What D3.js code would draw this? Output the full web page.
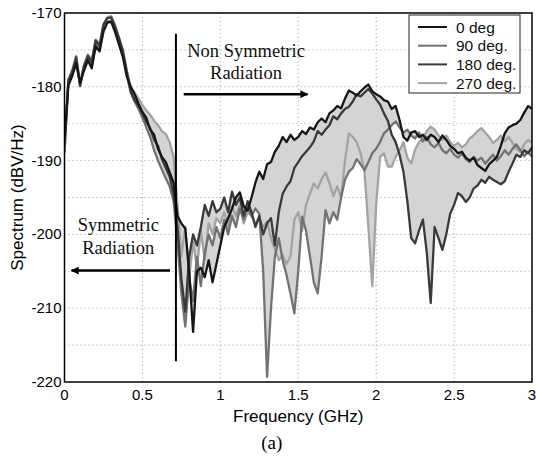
<!DOCTYPE html>
<html>
<head>
<meta charset="utf-8">
<script src="https://d3js.org/d3.v7.min.js"></script>
<style>
  body { margin: 0; background: #fff; }
  svg { display: block; }
</style>
</head>
<body>
<svg id="chart" width="536" height="457"></svg>
<script>
// frequency grid (GHz), step 0.025
var freq = d3.range(0, 121).map(function(i) { return +(i * 0.025).toFixed(3); });

var deg0 = [-187,-179.8,-178.5,-176.8,-179.5,-177.8,-176.4,-177.5,-174.5,-175.2,-172.5,-171.3,-171.2,-172.6,-174.3,-176,-178.6,-180,-181,
  -182.3,-183.4,-184.2,-185.8,-186.5,-188.4,-189.5,-190.2,-191.6,-193,-197.5,-198.5,-199.2,-205,-213.2,-205,-204.5,-205.8,-203.5,-206.5,-204,
  -201.5,-199,-197.8,-196.5,-195,-194.3,-196.2,-196.8,-195,-193,-191.5,-192.5,-190.5,-190.2,-188.8,-188,-186.8,-187.5,-186.5,-187.2,
  -186.8,-186,-186.4,-185.5,-185.8,-184.8,-184.3,-184.8,-183.6,-183.2,-182.6,-182.9,-181.6,-180.5,-180.8,-181.2,-180.6,-180.1,-179.7,-180.6,
  -181,-181.3,-181.8,-182,-183,-182.6,-184.5,-186.8,-187.3,-186.2,-186,-186.8,-186.5,-187.2,-186.5,-186.8,-187.5,-186.6,-187.2,-188,
  -188.4,-189,-188.8,-189.6,-190,-189.6,-190.6,-191,-191.4,-190.5,-190,-189.5,-188,-186.3,-185.5,-185.2,-185,-184.5,-183.5,-182.6,-183];

var deg90 = [-189,-179,-178,-176.2,-179.8,-177.4,-176.2,-177.2,-174.3,-175,-172.3,-171.2,-171,-172.4,-174,-175.8,-178.4,-180.8,-182,
  -183,-184.2,-185.5,-186.8,-188.6,-190,-191.2,-192.4,-193.5,-195.5,-201,-208,-212.5,-206,-209,-203,-207,-202.5,-200,-201.5,-199,
  -200.5,-198,-200,-197.5,-199,-196.5,-198,-196,-197.5,-196.5,-197.2,-205,-219.3,-210,-203,-200.5,-203.5,-205.5,-208,-210.7,
  -205,-197.6,-199.5,-203,-206.5,-208,-203,-196.7,-198.5,-197,-198,-195,-192.6,-191.5,-191,-189.8,-190.5,-191.3,-190.2,-189,
  -188.4,-187.5,-186.3,-185.8,-185.2,-184.7,-185.5,-186.2,-185.8,-186.6,-187,-186.2,-187.4,-186.8,-187.8,-188.2,-187.6,-188.6,-189,-188.4,
  -189.2,-189.6,-189,-189.8,-190.2,-189.5,-190,-189.6,-190.4,-189.8,-189.2,-190,-189.4,-188.6,-189.2,-188.4,-187.8,-188.6,-189.4,-188.8,-189.5];

var deg180 = [-188,-179.2,-178,-176,-179.9,-177.2,-175.8,-176.6,-173.7,-174.5,-171.6,-170.7,-170.6,-171.9,-173.4,-175.2,-178,-180.6,-181.8,
  -182.6,-183.6,-184.8,-185.6,-187.2,-188,-189.8,-191,-192.2,-194.5,-199,-206,-210.5,-203,-200,-201.5,-199,-196,-197.5,-195.5,-197,
  -196.5,-195,-197,-194.2,-196,-195,-197.5,-195.5,-197,-199,-197.5,-200,-198.5,-197.8,-201.5,-197,-194.5,-193.5,-192.8,-191,
  -190.2,-189.4,-188.8,-188.2,-187.4,-186,-186.5,-185.8,-185.2,-184,-184.4,-183.6,-183,-182.7,-182,-181,-181.3,-180.8,-180.3,-180.9,
  -181.7,-182.4,-183.6,-184.6,-186.5,-187.5,-189.2,-191.5,-195.5,-200.5,-201.2,-199.5,-198,-202.5,-209.3,-199,-200.5,-202.1,-200,-197.2,
  -196,-194.4,-194.8,-195.6,-195,-193.8,-193.4,-192.6,-193,-192.2,-192.6,-192.9,-193.2,-192.8,-191.5,-190.4,-189.2,-189.5,-188.6,-189,-188.2];

var deg270 = [-188.8,-179,-177.6,-175.8,-179.4,-177,-175.6,-176.4,-173.6,-174.2,-171.5,-170.6,-170.4,-171.6,-173.4,-175,-177.8,-180,-180.8,
  -181.6,-182.5,-183.2,-183.8,-184.6,-185.2,-186,-186.4,-187.5,-189.5,-196,-203,-199,-206,-201,-204.5,-199.5,-203.5,-198.5,-200,-197.8,
  -198.5,-197,-199,-196.2,-197.5,-196,-198.5,-197,-197.5,-198.5,-197.8,-199,-198.2,-200.5,-202,-203.5,-202.8,-204,-203,-198,
  -197,-199.5,-196,-194.5,-193.1,-193.8,-192.5,-191.6,-193,-194.8,-193.5,-195,-190,-186.3,-186.8,-187.5,-189,-191.5,-199,-207,
  -196,-189.5,-189,-190.8,-190.8,-189.5,-188.6,-187.5,-189.6,-190.4,-188.5,-187.5,-187,-186,-185.4,-185.8,-186.6,-187.2,-186.6,-187.5,
  -188,-187.6,-188.2,-187.8,-187,-186.6,-186,-185.6,-186.2,-186.8,-187.6,-187.2,-186.6,-187.4,-186.8,-187.6,-188.4,-188.8,-187.8,-187.2,-187.6];

var seriesNames = ["0 deg", "90 deg.", "180 deg.", "270 deg."];
var seriesColors = ["#161616", "#727272", "#3a3a3a", "#a3a3a3"];
var xTicks = [0, 0.5, 1, 1.5, 2, 2.5, 3];
var yTicks = [-170, -180, -190, -200, -210, -220];
var yGrid = d3.range(-220, -169, 5);

var svg = d3.select("#chart");
var margin = {left: 64.5, top: 13, right: 4, bottom: 75};
var W = 536 - margin.left - margin.right;
var H = 457 - margin.top - margin.bottom;

var x = d3.scaleLinear().domain([0, 3]).range([0, W]);
var y = d3.scaleLinear().domain([-220, -170]).range([H, 0]);

var g = svg.append("g").attr("transform", "translate(" + margin.left + "," + margin.top + ")");

var defs = svg.append("defs");
defs.append("clipPath").attr("id", "clip")
  .append("rect").attr("width", W).attr("height", H);

// grid
g.selectAll(".vgrid").data(xTicks.slice(1, -1)).enter().append("line")
  .attr("x1", function(d) { return x(d); }).attr("x2", function(d) { return x(d); })
  .attr("y1", 0).attr("y2", H)
  .attr("stroke", "#999").attr("stroke-width", 1).attr("stroke-dasharray", "1,3");
g.selectAll(".hgrid").data(yGrid.slice(1, -1)).enter().append("line")
  .attr("y1", function(d) { return y(d); }).attr("y2", function(d) { return y(d); })
  .attr("x1", 0).attr("x2", W)
  .attr("stroke", "#999").attr("stroke-width", 1).attr("stroke-dasharray", "1,3");

var all = [deg0, deg90, deg180, deg270];
var plot = g.append("g").attr("clip-path", "url(#clip)");

// shaded bands: 0 vs 90, 180 vs 270
var band = d3.area()
  .x(function(d, i) { return x(freq[i]); })
  .y0(function(d) { return y(d[0]); })
  .y1(function(d) { return y(d[1]); });
[[deg0, deg90], [deg180, deg270]].forEach(function(p) {
  plot.append("path")
    .datum(freq.map(function(f, i) { return [p[0][i], p[1][i]]; }))
    .attr("d", band)
    .attr("fill", "#d4d4d4").attr("stroke", "none");
});

var line = d3.line()
  .x(function(d, i) { return x(freq[i]); })
  .y(function(d) { return y(d); });
[3, 1, 2, 0].forEach(function(k) {
  plot.append("path").datum(all[k]).attr("d", line)
    .attr("fill", "none").attr("stroke", seriesColors[k])
    .attr("stroke-width", 2.3).attr("stroke-linejoin", "round");
});

// axes box
g.append("rect").attr("width", W).attr("height", H)
  .attr("fill", "none").attr("stroke", "#000").attr("stroke-width", 1.5);

var axisFont = "'Liberation Sans', Arial, sans-serif";
g.selectAll(".xt").data(xTicks).enter().append("text")
  .attr("x", function(d) { return x(d); }).attr("y", H + 18)
  .attr("text-anchor", "middle").attr("font-family", axisFont).attr("font-size", 15)
  .text(function(d) { return d; });
g.selectAll(".yt").data(yTicks).enter().append("text")
  .attr("x", -3).attr("y", function(d) { return y(d) + 5; })
  .attr("text-anchor", "end").attr("font-family", axisFont).attr("font-size", 15)
  .text(function(d) { return d; });

g.append("text").attr("x", W / 2).attr("y", H + 40)
  .attr("text-anchor", "middle").attr("font-family", axisFont).attr("font-size", 17)
  .text("Frequency (GHz)");
g.append("text").attr("transform", "translate(" + (-42) + "," + (H / 2) + ") rotate(-90)")
  .attr("text-anchor", "middle").attr("font-family", axisFont).attr("font-size", 17)
  .text("Spectrum (dBV/Hz)");
g.append("text").attr("x", x(1.33)).attr("y", H + 67)
  .attr("text-anchor", "middle").attr("font-family", "'Liberation Serif', 'Times New Roman', serif").attr("font-size", 19)
  .text("(a)");

// annotations
var serif = "'Liberation Serif', 'Times New Roman', serif";
g.append("line").attr("x1", x(0.715)).attr("x2", x(0.715)).attr("y1", y(-172.8)).attr("y2", y(-217.2))
  .attr("stroke", "#000").attr("stroke-width", 2);

defs.append("marker").attr("id", "ah").attr("viewBox", "0 0 10 10")
  .attr("refX", 9).attr("refY", 5).attr("markerWidth", 10).attr("markerHeight", 8)
  .attr("markerUnits", "userSpaceOnUse")
  .attr("orient", "auto-start-reverse")
  .append("path").attr("d", "M0,0 L10,5 L0,10 z").attr("fill", "#000");

g.append("line").attr("x1", x(0.765)).attr("x2", x(1.56)).attr("y1", y(-181)).attr("y2", y(-181))
  .attr("stroke", "#000").attr("stroke-width", 2.5).attr("marker-end", "url(#ah)");
g.append("line").attr("x1", x(0.677)).attr("x2", x(0.045)).attr("y1", y(-204.9)).attr("y2", y(-204.9))
  .attr("stroke", "#000").attr("stroke-width", 2.5).attr("marker-end", "url(#ah)");

[["Non Symmetric", 1.165, -175.9], ["Radiation", 1.165, -178.9],
 ["Symmetric", 0.345, -199.6], ["Radiation", 0.345, -202.7]].forEach(function(t) {
  g.append("text").attr("x", x(t[1])).attr("y", y(t[2]))
    .attr("text-anchor", "middle").attr("font-family", serif).attr("font-size", 18.5)
    .attr("fill", "#111").text(t[0]);
});

// legend
var lg = g.append("g").attr("transform", "translate(" + (409 - margin.left) + "," + (15 - margin.top) + ")");
lg.append("rect").attr("width", 111).attr("height", 78)
  .attr("fill", "#fff").attr("stroke", "#222").attr("stroke-width", 1);
seriesNames.forEach(function(n, k) {
  var yy = 12 + k * 18.7;
  lg.append("line").attr("x1", 9).attr("x2", 38).attr("y1", yy).attr("y2", yy)
    .attr("stroke", seriesColors[k]).attr("stroke-width", 2);
  lg.append("text").attr("x", 47).attr("y", yy + 5.5)
    .attr("font-family", axisFont).attr("font-size", 15.5).attr("fill", "#111").text(n);
});
</script>
</body>
</html>
